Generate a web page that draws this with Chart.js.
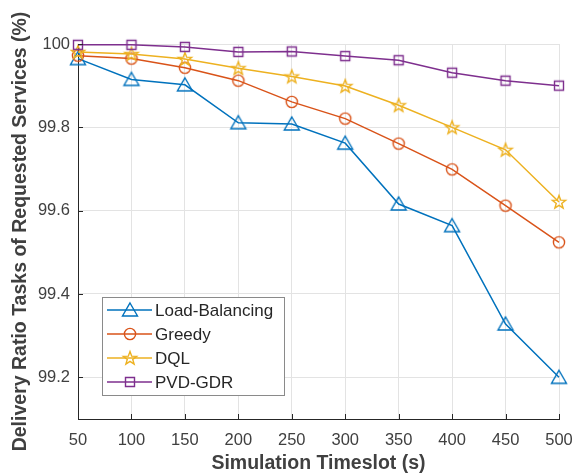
<!DOCTYPE html>
<html>
<head>
<meta charset="utf-8">
<script src="https://cdn.jsdelivr.net/npm/chart.js@4.4.1/dist/chart.umd.min.js"></script>
<style>
  html, body { margin: 0; padding: 0; background: #fff; }
</style>
</head>
<body>
<canvas id="myChart" width="576" height="475"></canvas>
<script>
const timeslots = [50, 100, 150, 200, 250, 300, 350, 400, 450, 500];
const loadBalancing = [99.965, 99.915, 99.902, 99.811, 99.808, 99.762, 99.616, 99.564, 99.328, 99.2];
const greedy = [99.972, 99.965, 99.943, 99.912, 99.861, 99.821, 99.761, 99.699, 99.612, 99.524];
const dql = [99.981, 99.976, 99.964, 99.942, 99.922, 99.899, 99.853, 99.8, 99.746, 99.621];
const pvdGdr = [99.998, 99.998, 99.993, 99.981, 99.982, 99.971, 99.961, 99.931, 99.912, 99.9];
const seriesNames = ["Load-Balancing", "Greedy", "DQL", "PVD-GDR"];
const seriesColors = ["#0072BD", "#D95319", "#EDB120", "#7E2F8E"];
const seriesShapes = ["triangle", "circle", "star", "square"];
const yTicks = [99.2, 99.4, 99.6, 99.8, 100];

const fontFamily = "'Liberation Sans', Arial, sans-serif";

// draw MATLAB-like hollow markers onto small canvases
const makeMarker = (shape, color) => {
  const size = 22;
  const c = document.createElement("canvas");
  c.width = size;
  c.height = size;
  const ctx = c.getContext("2d");
  const m = size / 2;
  ctx.strokeStyle = color;
  ctx.lineWidth = 1.4;
  ctx.beginPath();
  if (shape === "triangle") {
    ctx.moveTo(m, m - 7);
    ctx.lineTo(m + 7.5, m + 6);
    ctx.lineTo(m - 7.5, m + 6);
    ctx.closePath();
  } else if (shape === "circle") {
    ctx.arc(m, m, 5.6, 0, Math.PI * 2);
  } else if (shape === "square") {
    ctx.rect(m - 4.5, m - 4.5, 9, 9);
  } else {
    for (let i = 0; i < 10; i++) {
      const r = i % 2 === 0 ? 7 : 2.9;
      const a = -Math.PI / 2 + (i * Math.PI) / 5;
      const px = m + r * Math.cos(a);
      const py = m + 0.5 + r * Math.sin(a);
      if (i === 0) ctx.moveTo(px, py);
      else ctx.lineTo(px, py);
    }
    ctx.closePath();
  }
  ctx.stroke();
  return c;
};

const markers = seriesShapes.map((shape, i) => makeMarker(shape, seriesColors[i]));
const seriesValues = [loadBalancing, greedy, dql, pvdGdr];

const datasets = seriesNames.map((name, i) => {
  return {
    label: name,
    data: timeslots.map((t, j) => ({ x: t, y: seriesValues[i][j] })),
    borderColor: seriesColors[i],
    backgroundColor: seriesColors[i],
    borderWidth: 1.5,
    pointStyle: markers[i],
    pointRadius: 7,
    tension: 0,
    clip: false,
    order: seriesNames.length - i,
  };
});

// tick marks pointing into the plot, and the legend box in the lower-left corner
const innerTicks = {
  id: "innerTicks",
  afterDraw: (chart) => {
    const { ctx, chartArea } = chart;
    const xScale = chart.scales.x;
    const yScale = chart.scales.y;
    ctx.save();
    ctx.strokeStyle = "#262626";
    ctx.lineWidth = 1;
    ctx.beginPath();
    xScale.ticks.forEach((t) => {
      const px = Math.round(xScale.getPixelForValue(t.value)) + 0.5;
      ctx.moveTo(px, chartArea.bottom);
      ctx.lineTo(px, chartArea.bottom - 5);
    });
    yScale.ticks.forEach((t) => {
      const py = Math.round(yScale.getPixelForValue(t.value)) + 0.5;
      ctx.moveTo(chartArea.left, py);
      ctx.lineTo(chartArea.left + 5, py);
    });
    ctx.stroke();
    ctx.restore();
  },
};

const insideLegend = {
  id: "insideLegend",
  afterDraw: (chart) => {
    const { ctx, chartArea } = chart;
    const boxW = 182;
    const boxH = 98;
    const left = chartArea.left + 24;
    const top = chartArea.bottom - 24 - boxH;
    ctx.save();
    ctx.fillStyle = "#fff";
    ctx.fillRect(left, top, boxW, boxH);
    ctx.strokeStyle = "#8a8a8a";
    ctx.lineWidth = 1;
    ctx.strokeRect(Math.round(left) + 0.5, Math.round(top) + 0.5, boxW, boxH);
    ctx.font = "17px " + fontFamily;
    ctx.textBaseline = "middle";
    ctx.fillStyle = "#262626";
    chart.data.datasets.forEach((ds, i) => {
      const cy = top + 13 + i * 24;
      ctx.strokeStyle = ds.borderColor;
      ctx.lineWidth = 1.5;
      ctx.beginPath();
      ctx.moveTo(left + 5, cy);
      ctx.lineTo(left + 50, cy);
      ctx.stroke();
      const mk = ds.pointStyle;
      ctx.drawImage(mk, Math.round(left + 27.5 - mk.width / 2), Math.round(cy - mk.height / 2));
      ctx.fillText(ds.label, left + 53, cy + 1);
    });
    ctx.restore();
  },
};

new Chart(document.getElementById("myChart"), {
  type: "line",
  data: { datasets: datasets },
  options: {
    responsive: false,
    animation: false,
    devicePixelRatio: 1,
    layout: { padding: { left: 0, right: 17, top: 44, bottom: 0 } },
    plugins: {
      legend: { display: false },
      tooltip: { enabled: false },
    },
    scales: {
      x: {
        type: "linear",
        min: 50,
        max: 500,
        ticks: {
          stepSize: 50,
          padding: 0,
          color: "#404040",
          font: { family: fontFamily, size: 16.5 },
        },
        grid: { color: "#e3e3e3", drawTicks: true, tickLength: 12, tickColor: "rgba(0,0,0,0)" },
        border: { color: "#262626", width: 1 },
        title: {
          display: true,
          text: "Simulation Timeslot (s)",
          color: "#404040",
          font: { family: fontFamily, size: 19.5, weight: "bold" },
          padding: { top: 0, bottom: 0 },
        },
        afterFit: (scale) => {
          scale.height = 56;
        },
      },
      y: {
        min: 99.1,
        max: 100,
        afterBuildTicks: (scale) => {
          scale.ticks = yTicks.map((v) => ({ value: v }));
        },
        ticks: {
          padding: 8,
          color: "#404040",
          font: { family: fontFamily, size: 16.5 },
          callback: (v) => (v === 100 ? "100" : v.toFixed(1)),
        },
        grid: { color: "#e3e3e3", drawTicks: false },
        border: { color: "#262626", width: 1 },
        title: {
          display: true,
          text: "Delivery Ratio Tasks of Requested Services (%)",
          color: "#404040",
          font: { family: fontFamily, size: 19.5, weight: "bold" },
          padding: { top: 8.5, bottom: 0 },
        },
        afterFit: (scale) => {
          scale.width = 78;
        },
      },
    },
  },
  plugins: [innerTicks, insideLegend],
});
</script>
</body>
</html>
